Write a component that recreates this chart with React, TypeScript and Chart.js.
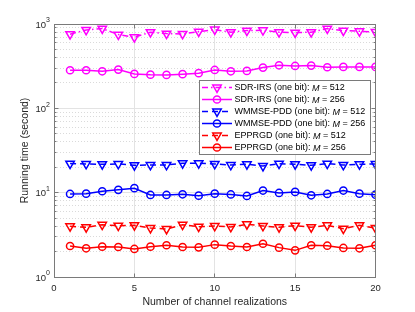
import React, { useEffect, useRef } from 'react';
import { Chart, registerables } from 'chart.js';

Chart.register(...registerables);

// ---------------- data ----------------
const realizations = [1, 2, 3, 4, 5, 6, 7, 8, 9, 10, 11, 12, 13, 14, 15, 16, 17, 18, 19, 20];

const sdrIrs512 = [757, 851, 882, 749, 697, 800, 769, 763, 813, 859, 800, 835, 844, 800, 791, 800, 882, 835, 820, 806];
const sdrIrs256 = [283, 283, 275, 288, 256, 251, 249, 254, 261, 285, 275, 278, 304, 324, 318, 321, 307, 310, 310, 310];
const wmmsePdd512 = [22.1, 21.9, 21.7, 21.9, 21.1, 21.3, 21.3, 22.3, 22.3, 21.9, 21.3, 21.7, 20.7, 22.1, 21.7, 21.1, 22.1, 21.3, 21.7, 21.9];
const wmmsePdd256 = [9.65, 9.73, 10.4, 10.8, 11.3, 9.39, 9.39, 9.57, 9.21, 9.73, 9.52, 9.14, 10.6, 9.92, 10.2, 9.31, 9.65, 10.6, 9.73, 9.47];
const epprgd512 = [3.99, 3.89, 4.17, 4.06, 4.1, 3.81, 3.71, 4.17, 3.95, 4.03, 3.92, 4.22, 4.03, 3.89, 4.06, 3.89, 4.1, 3.74, 4.1, 3.81];
const epprgd256 = [2.33, 2.19, 2.29, 2.27, 2.15, 2.29, 2.38, 2.27, 2.25, 2.42, 2.33, 2.27, 2.48, 2.23, 2.07, 2.38, 2.35, 2.21, 2.19, 2.38];

const seriesPrefixes = [
  'SDR-IRS (one bit): ',
  'SDR-IRS (one bit): ',
  'WMMSE-PDD (one bit): ',
  'WMMSE-PDD (one bit): ',
  'EPPRGD (one bit): ',
  'EPPRGD (one bit): ',
];
const seriesMLabels = ['512', '256', '512', '256', '512', '256'];

const xTickValues = [0, 5, 10, 15, 20];
const xTickLabels = ['0', '5', '10', '15', '20'];
const yDecadeValues = [1, 10, 100, 1000];
const yDecadeExponents = ['0', '1', '2', '3'];
const yMinorValues = [2, 3, 4, 5, 6, 7, 8, 9, 20, 30, 40, 50, 60, 70, 80, 90, 200, 300, 400, 500, 600, 700, 800, 900];

const xTitle = 'Number of channel realizations';
const yTitle = 'Running time (second)';

// ---------------- styles ----------------
const MAGENTA = '#FF00FF';
const BLUE = '#0000FF';
const RED = '#FF0000';
const DASH_DOT = [6, 3, 1.5, 3];
const DASHED = [6, 4];
const FONT = '"Liberation Sans", Arial, Helvetica, sans-serif';

type Style = { color: string; dash: number[]; marker: 'tri' | 'circle' };
const styles: Style[] = [
  { color: MAGENTA, dash: DASH_DOT, marker: 'tri' },
  { color: MAGENTA, dash: [], marker: 'circle' },
  { color: BLUE, dash: DASHED, marker: 'tri' },
  { color: BLUE, dash: [], marker: 'circle' },
  { color: RED, dash: DASHED, marker: 'tri' },
  { color: RED, dash: [], marker: 'circle' },
];
const seriesValues = [sdrIrs512, sdrIrs256, wmmsePdd512, wmmsePdd256, epprgd512, epprgd256];

const TRI_R = 4.9;
const CIRC_R = 3.6;

function drawMarker(ctx: CanvasRenderingContext2D, m: 'tri' | 'circle', x: number, y: number, color: string) {
  ctx.save();
  ctx.setLineDash([]);
  ctx.strokeStyle = color;
  ctx.lineWidth = 1.5;
  ctx.beginPath();
  if (m === 'circle') {
    ctx.arc(x, y, CIRC_R, 0, Math.PI * 2);
  } else {
    const r = TRI_R;
    ctx.moveTo(x, y + r);
    ctx.lineTo(x - r * Math.sin(Math.PI / 3), y - r / 2);
    ctx.lineTo(x + r * Math.sin(Math.PI / 3), y - r / 2);
    ctx.closePath();
  }
  ctx.stroke();
  ctx.restore();
}

const matlabPlugin = {
  id: 'matlabAxes',
  beforeDatasetsDraw(chart: any) {
    const { ctx, chartArea: a, scales } = chart;
    const xs = scales.x;
    const ys = scales.y;
    ctx.save();
    ctx.lineWidth = 1;
    ctx.strokeStyle = '#dadada';
    ctx.setLineDash([1, 2]);
    for (const v of yMinorValues) {
      const py = Math.floor(ys.getPixelForValue(v)) + 0.5;
      ctx.beginPath();
      ctx.moveTo(a.left, py);
      ctx.lineTo(a.right, py);
      ctx.stroke();
    }
    ctx.setLineDash([]);
    ctx.strokeStyle = '#e3e3e3';
    for (const v of yDecadeValues) {
      const py = Math.floor(ys.getPixelForValue(v)) + 0.5;
      ctx.beginPath();
      ctx.moveTo(a.left, py);
      ctx.lineTo(a.right, py);
      ctx.stroke();
    }
    for (const v of xTickValues) {
      const px = Math.floor(xs.getPixelForValue(v)) + 0.5;
      ctx.beginPath();
      ctx.moveTo(px, a.top);
      ctx.lineTo(px, a.bottom);
      ctx.stroke();
    }
    ctx.restore();
  },
  afterDatasetsDraw(chart: any) {
    const { ctx, chartArea: a, scales } = chart;
    const xs = scales.x;
    const ys = scales.y;
    ctx.save();
    const L = Math.floor(a.left) + 0.5;
    const R = Math.floor(a.right) + 0.5;
    const T = Math.floor(a.top) + 0.5;
    const B = Math.floor(a.bottom) + 0.5;

    ctx.setLineDash([]);
    ctx.strokeStyle = '#7a7a7a';
    ctx.lineWidth = 1;
    ctx.strokeRect(L, T, R - L, B - T);

    ctx.beginPath();
    for (const v of xTickValues) {
      const px = Math.floor(xs.getPixelForValue(v)) + 0.5;
      ctx.moveTo(px, B);
      ctx.lineTo(px, B - 4);
      ctx.moveTo(px, T);
      ctx.lineTo(px, T + 4);
    }
    for (const v of yDecadeValues) {
      const py = Math.floor(ys.getPixelForValue(v)) + 0.5;
      ctx.moveTo(L, py);
      ctx.lineTo(L + 4, py);
      ctx.moveTo(R, py);
      ctx.lineTo(R - 4, py);
    }
    for (const v of yMinorValues) {
      const py = Math.floor(ys.getPixelForValue(v)) + 0.5;
      ctx.moveTo(L, py);
      ctx.lineTo(L + 2, py);
      ctx.moveTo(R, py);
      ctx.lineTo(R - 2, py);
    }
    ctx.stroke();

    ctx.fillStyle = '#262626';
    ctx.font = `9.5px ${FONT}`;
    ctx.textAlign = 'center';
    ctx.textBaseline = 'middle';
    xTickValues.forEach((v, i) => {
      ctx.fillText(xTickLabels[i], xs.getPixelForValue(v), a.bottom + 11.5);
    });
    yDecadeValues.forEach((v, i) => {
      const py = ys.getPixelForValue(v);
      ctx.font = `7px ${FONT}`;
      const supW = ctx.measureText(yDecadeExponents[i]).width;
      const supX = a.left - 4 - supW;
      ctx.textAlign = 'left';
      ctx.fillText(yDecadeExponents[i], supX, py - 3.5);
      ctx.font = `9.5px ${FONT}`;
      ctx.textAlign = 'right';
      ctx.fillText('10', supX, py + 1);
    });

    ctx.font = `10.5px ${FONT}`;
    ctx.textAlign = 'center';
    ctx.textBaseline = 'middle';
    ctx.fillText(xTitle, (a.left + a.right) / 2, 302);
    ctx.save();
    ctx.translate(25, (a.top + a.bottom) / 2);
    ctx.rotate(-Math.PI / 2);
    ctx.fillText(yTitle, 0, 0);
    ctx.restore();

    const bx = 199.5, by = 80.5, bw = 171, bh = 74;
    ctx.fillStyle = '#ffffff';
    ctx.fillRect(bx, by, bw, bh);
    ctx.strokeStyle = '#7a7a7a';
    ctx.lineWidth = 1;
    ctx.strokeRect(bx, by, bw, bh);
    styles.forEach((s, i) => {
      const ry = 87.5 + i * 12;
      ctx.save();
      ctx.strokeStyle = s.color;
      ctx.lineWidth = 1.5;
      ctx.setLineDash(s.dash);
      ctx.beginPath();
      ctx.moveTo(202, ry);
      ctx.lineTo(232, ry);
      ctx.stroke();
      ctx.restore();
      drawMarker(ctx, s.marker, 217, ry, s.color);
      ctx.fillStyle = '#000000';
      ctx.textAlign = 'left';
      ctx.textBaseline = 'middle';
      let tx = 234.5;
      ctx.font = `9px ${FONT}`;
      ctx.fillText(seriesPrefixes[i], tx, ry + 0.5);
      tx += ctx.measureText(seriesPrefixes[i]).width;
      ctx.font = `italic 9px ${FONT}`;
      ctx.fillText('M', tx, ry + 0.5);
      tx += ctx.measureText('M').width;
      ctx.font = `9px ${FONT}`;
      ctx.fillText(' = ' + seriesMLabels[i], tx, ry + 0.5);
    });
    ctx.restore();
  },
};

export default function App() {
  const canvasRef = useRef<HTMLCanvasElement | null>(null);

  useEffect(() => {
    const canvas = canvasRef.current;
    if (!canvas) return;
    const datasets = seriesValues.map((vals, i) => {
      const s = styles[i];
      return {
        label: seriesPrefixes[i] + 'M = ' + seriesMLabels[i],
        data: vals.map((v, j) => ({ x: realizations[j], y: v })),
        borderColor: s.color,
        backgroundColor: 'rgba(0,0,0,0)',
        borderWidth: 1.5,
        borderDash: s.dash,
        tension: 0,
        fill: false,
        pointStyle: s.marker === 'tri' ? 'triangle' : 'circle',
        pointRotation: s.marker === 'tri' ? 180 : 0,
        pointRadius: s.marker === 'tri' ? TRI_R : CIRC_R,
        pointBorderWidth: 1.5,
        pointBorderColor: s.color,
        pointBackgroundColor: 'rgba(0,0,0,0)',
      };
    });
    const chart = new Chart(canvas, {
      type: 'line',
      data: { datasets } as any,
      options: {
        responsive: false,
        animation: false,
        devicePixelRatio: 1,
        layout: { padding: { left: 54, right: 415 - 375.5, top: 24, bottom: 312 - 277 } },
        scales: {
          x: { type: 'linear', min: 0, max: 20, display: false },
          y: { type: 'logarithmic', min: 1, max: 1000, display: false },
        },
        plugins: {
          legend: { display: false },
          tooltip: { enabled: false },
        },
      } as any,
      plugins: [matlabPlugin],
    });
    return () => chart.destroy();
  }, []);

  return (
    <div style={{ position: 'fixed', left: 0, top: 0, width: 415, height: 312, background: '#ffffff' }}>
      <canvas ref={canvasRef} width={415} height={312} style={{ width: 415, height: 312 }} />
    </div>
  );
}
